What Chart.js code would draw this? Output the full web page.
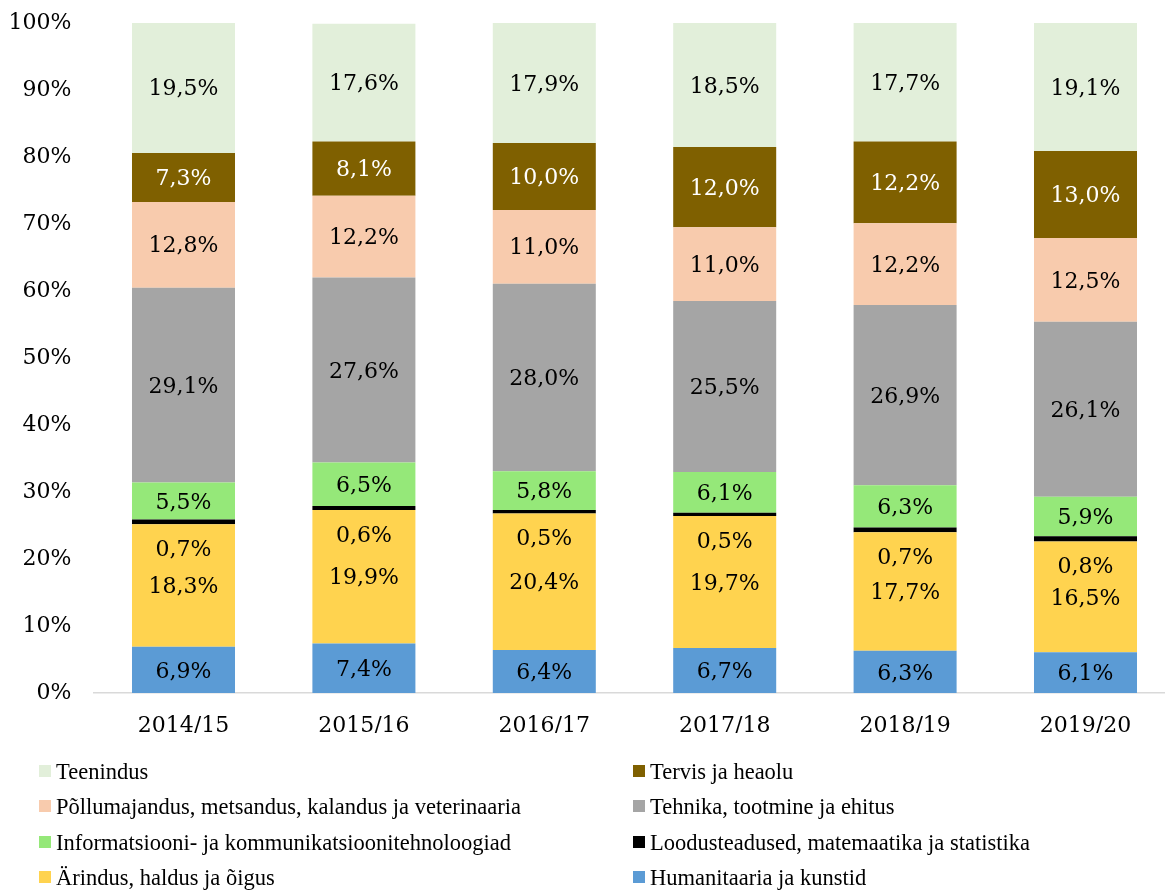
<!DOCTYPE html>
<html>
<head>
<meta charset="utf-8">
<script src="https://cdn.jsdelivr.net/npm/chart.js@4.4.0/dist/chart.umd.min.js"></script>
<style>
    html, body { margin: 0; padding: 0; background: #fff; overflow: hidden; }
    #wrap { position: relative; width: 1180px; height: 890px; }
    #legend { position: absolute; left: 0; top: 0; width: 1165px; height: 890px; pointer-events: none; }
    .lg-item { position: absolute; font-family: 'Liberation Serif', serif; font-size: 22.5px; line-height: 25px; color: #000; white-space: nowrap; }
    .lg-box { position: absolute; left: 0; top: 6px; width: 12px; height: 12px; }
    .lg-text { position: absolute; left: 17px; top: 0; }
</style>
</head>
<body>
<div id="wrap">
    <canvas id="chart" width="1180" height="890" style="width:1180px;height:890px"></canvas>
    <div id="legend"></div>
</div>
<script>
// ===== Data (bottom to top of each stack) =====
const years = ['2014/15', '2015/16', '2016/17', '2017/18', '2018/19', '2019/20'];

const seriesNames = [
    'Humanitaaria ja kunstid',
    'Ärindus, haldus ja õigus',
    'Loodusteadused, matemaatika ja statistika',
    'Informatsiooni- ja kommunikatsioonitehnoloogiad',
    'Tehnika, tootmine ja ehitus',
    'Põllumajandus, metsandus, kalandus ja veterinaaria',
    'Tervis ja heaolu',
    'Teenindus',
];

const humanitaaria = [6.9, 7.4, 6.4, 6.7, 6.3, 6.1];
const arindus = [18.3, 19.9, 20.4, 19.7, 17.7, 16.5];
const loodusteadused = [0.7, 0.6, 0.5, 0.5, 0.7, 0.8];
const ikt = [5.5, 6.5, 5.8, 6.1, 6.3, 5.9];
const tehnika = [29.1, 27.6, 28.0, 25.5, 26.9, 26.1];
const pollumajandus = [12.8, 12.2, 11.0, 11.0, 12.2, 12.5];
const tervis = [7.3, 8.1, 10.0, 12.0, 12.2, 13.0];
const teenindus = [19.5, 17.6, 17.9, 18.5, 17.7, 19.1];

const yTicks = [0, 10, 20, 30, 40, 50, 60, 70, 80, 90, 100];

const seriesData = [humanitaaria, arindus, loodusteadused, ikt, tehnika, pollumajandus, tervis, teenindus];
const colors = ['#5B9BD5', '#FFD34F', '#000000', '#95E879', '#A5A5A5', '#F8CBAD', '#7F6000', '#E2EFDA'];
const labelColors = ['#000', '#000', '#000', '#000', '#000', '#000', '#fff', '#000'];

const numFont = "'DejaVu Serif', serif";
const fmt = v => v.toFixed(1).replace('.', ',') + '%';

/** Draw value labels in the middle of each segment */
const segmentLabels = {
    id: 'segmentLabels',
    afterDatasetsDraw(chart) {
        const ctx = chart.ctx;
        ctx.save();
        ctx.font = `22px ${numFont}`;
        ctx.textAlign = 'center';
        ctx.textBaseline = 'middle';
        chart.data.datasets.forEach((ds, i) => {
            const meta = chart.getDatasetMeta(i);
            meta.data.forEach((bar, j) => {
                let y = (bar.y + bar.base) / 2 + 2;
                // thin black segment: label sits inside the yellow block below
                if (i === 2) y += 26;
                ctx.fillStyle = labelColors[i];
                ctx.fillText(fmt(ds.data[j]), bar.x, y);
            });
        });
        ctx.restore();
    },
};

const datasets = seriesData.map((data, i) => ({
    label: seriesNames[i],
    data,
    backgroundColor: colors[i],
    borderWidth: 0,
    barPercentage: 0.571,
    categoryPercentage: 1,
}));

new Chart(document.getElementById('chart'), {
    type: 'bar',
    data: { labels: years, datasets },
    options: {
        responsive: false,
        animation: false,
        layout: { padding: { left: 0, right: 4.3, top: 23, bottom: 157 } },
        plugins: {
            legend: { display: false },
            tooltip: { enabled: false },
        },
        scales: {
            x: {
                stacked: true,
                grid: { display: false, drawTicks: false },
                border: { display: true, color: '#D9D9D9', width: 1.5 },
                ticks: { color: '#000', padding: 20, font: { size: 22, family: numFont } },
                afterFit: scale => { scale.height = 40; },
            },
            y: {
                stacked: true,
                min: 0,
                max: 100,
                grid: { display: false, drawTicks: false },
                border: { display: false },
                afterBuildTicks: scale => { scale.ticks = yTicks.map(v => ({ value: v })); },
                ticks: {
                    color: '#000',
                    padding: 22,
                    font: { size: 22, family: numFont },
                    callback: v => v + '%',
                },
                afterFit: scale => {
                    scale.width = 93.3;
                    scale.paddingTop = 0;
                    scale.paddingBottom = 0;
                },
            },
        },
    },
    plugins: [segmentLabels],
});

// ===== Legend: two columns, top series first =====
const legendEl = document.getElementById('legend');
const legendCols = [39, 633];
seriesNames.slice().reverse().forEach((name, k) => {
    const idx = seriesNames.length - 1 - k;
    const item = document.createElement('div');
    item.className = 'lg-item';
    item.style.left = legendCols[k % 2] + 'px';
    item.style.top = (759 + Math.floor(k / 2) * 35.3) + 'px';
    const box = document.createElement('span');
    box.className = 'lg-box';
    box.style.background = colors[idx];
    const txt = document.createElement('span');
    txt.className = 'lg-text';
    txt.textContent = name;
    item.appendChild(box);
    item.appendChild(txt);
    legendEl.appendChild(item);
});
</script>
</body>
</html>
